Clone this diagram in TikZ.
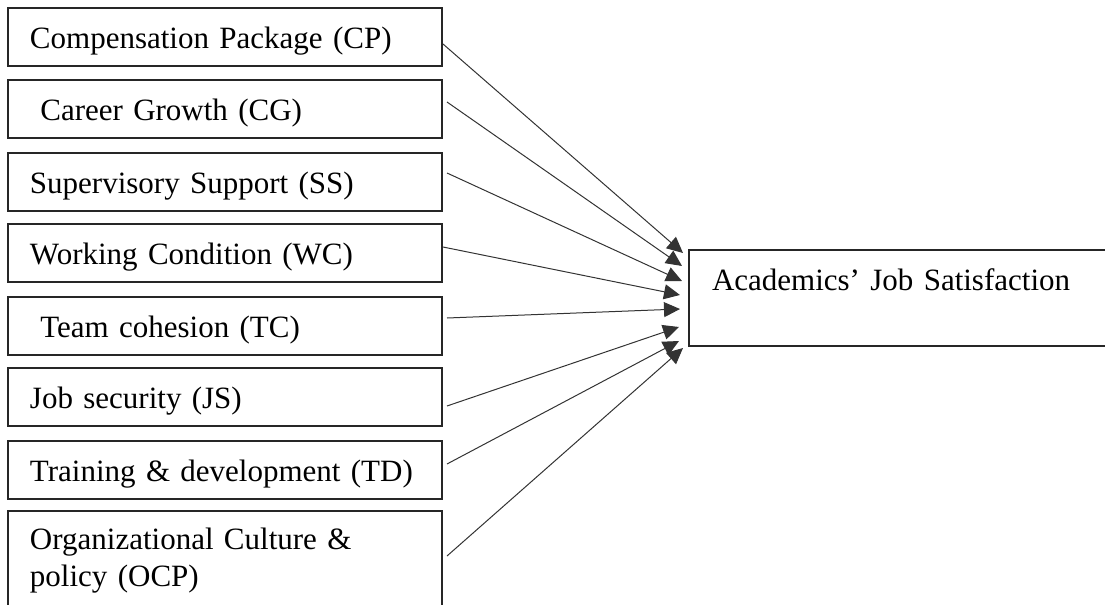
\documentclass[tikz,border=0pt]{standalone}
\usepackage{fontspec}
\setmainfont{Liberation Serif}
\usetikzlibrary{arrows.meta}
\tikzset{factor/.style={draw=black!85, line width=1pt, anchor=north west,
   minimum width=217pt, minimum height=29pt, text width=195pt,
   inner xsep=11pt, inner ysep=0pt, align=left,
   text height=11.5pt, text depth=0pt,
   font=\fontsize{15.5pt}{18.5pt}\selectfont},
 outcome/.style={factor, minimum width=216pt, minimum height=48pt,
   text width=193pt, inner xsep=11.5pt, text depth=19.5pt},
 link/.style={draw=black!80, line width=0.5pt,
   -{Triangle[length=8pt,width=7.5pt]}},
 }

\begin{document}
\begin{tikzpicture}[x=0.5pt,y=-0.5pt]
        \useasboundingbox (0,0) rectangle (1105,605);
        % factors
        \node[factor] (cp) at (7,7) {Compensation Package (CP)};
        \node[factor] (cg) at (7,79) {\ Career Growth (CG)};
        \node[factor] (ss) at (7,152) {Supervisory Support (SS)};
        \node[factor] (wc) at (7,223) {Working Condition (WC)};
        \node[factor] (tc) at (7,296) {\ Team cohesion (TC)};
        \node[factor] (js) at (7,367) {Job security (JS)};
        \node[factor] (td) at (7,440) {Training \& development (TD)};
        \node[factor, minimum height=55pt, text depth=28.5pt] (ocp) at (7,510)
            {Organizational Culture \&\\ policy (OCP)};
        % outcome
        \node[outcome] (ajs) at (688,249) {Academics’ Job Satisfaction};
        \draw[link] ([yshift=-3.5pt]cp.east) -- ([xshift=-2.5pt,yshift=22.5pt]ajs.west);
        \draw[link] ([xshift=2pt,yshift=3.5pt]cg.east) -- ([xshift=-3pt,yshift=16pt]ajs.west);
        \draw[link] ([xshift=2pt,yshift=4.5pt]ss.east) -- ([xshift=-3pt,yshift=8.5pt]ajs.west);
        \draw[link] ([yshift=3pt]wc.east) -- ([xshift=-4pt,yshift=1.5pt]ajs.west);
        \draw[link] ([xshift=2pt,yshift=4pt]tc.east) -- ([xshift=-4pt,yshift=-5.5pt]ajs.west);
        \draw[link] ([xshift=2pt,yshift=-4.5pt]js.east) -- ([xshift=-4.5pt,yshift=-14.5pt]ajs.west);
        \draw[link] ([xshift=2pt,yshift=3pt]td.east) -- ([xshift=-4.5pt,yshift=-21.5pt]ajs.west);
        \draw[link] ([xshift=2pt,yshift=5pt]ocp.east) -- ([xshift=-2.5pt,yshift=-25pt]ajs.west);
    \end{tikzpicture}
\end{document}
